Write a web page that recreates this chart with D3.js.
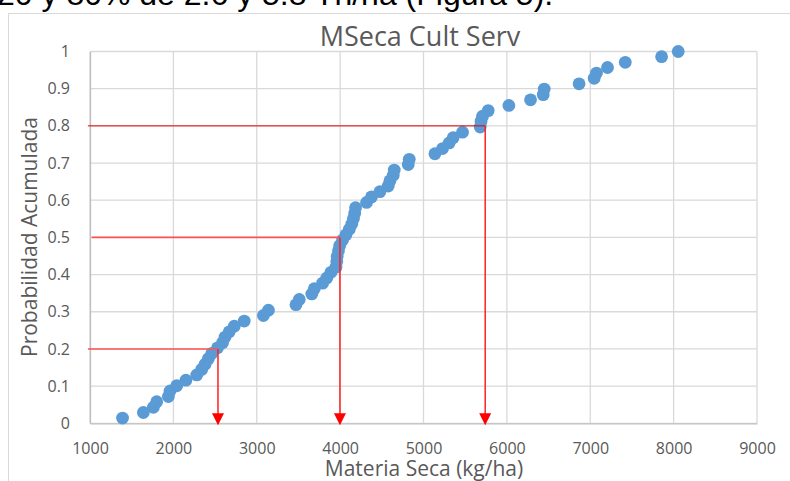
<!DOCTYPE html>
<html>
<head>
<meta charset="utf-8">
<script src="https://cdn.jsdelivr.net/npm/d3@7"></script>
<style>
  html, body { margin: 0; padding: 0; background: #ffffff; }
  svg { display: block; }
</style>
</head>
<body>
<svg id="chart" width="790" height="481"></svg>
<script>
// ---- data ----
const materiaSeca = [1390, 1640, 1760, 1800, 1940, 1960, 2040, 2150, 2280, 2340,
  2380, 2420, 2460, 2530, 2590, 2620, 2670, 2730, 2850, 3080,
  3140, 3470, 3510, 3660, 3690, 3790, 3840, 3890, 3950, 3960,
  3965, 3980, 3995, 4030, 4070, 4110, 4140, 4160, 4175, 4185,
  4317, 4377, 4477, 4577, 4597, 4637, 4649, 4817, 4829, 5137,
  5228, 5308, 5356, 5468, 5680, 5690, 5708, 5776, 6024, 6284,
  6436, 6448, 6866, 7047, 7075, 7207, 7420, 7856, 8055];
const probAcum = [0.014, 0.029, 0.043, 0.058, 0.072, 0.087, 0.101, 0.116, 0.130, 0.145,
  0.159, 0.174, 0.188, 0.203, 0.217, 0.232, 0.246, 0.261, 0.275, 0.290,
  0.304, 0.319, 0.333, 0.348, 0.362, 0.377, 0.391, 0.406, 0.420, 0.435,
  0.449, 0.464, 0.478, 0.493, 0.507, 0.522, 0.536, 0.551, 0.565, 0.580,
  0.594, 0.609, 0.623, 0.638, 0.652, 0.667, 0.681, 0.696, 0.710, 0.725,
  0.739, 0.754, 0.768, 0.783, 0.797, 0.812, 0.826, 0.841, 0.855, 0.870,
  0.884, 0.899, 0.913, 0.928, 0.942, 0.957, 0.971, 0.986, 1.000];
const xTicks = [1000, 2000, 3000, 4000, 5000, 6000, 7000, 8000, 9000];
const yTicks = [0, 0.1, 0.2, 0.3, 0.4, 0.5, 0.6, 0.7, 0.8, 0.9, 1];
const yTickLabels = ["0", "0.1", "0.2", "0.3", "0.4", "0.5", "0.6", "0.7", "0.8", "0.9", "1"];
// percentile guide lines (probability -> value)
const guideProb = [0.2, 0.5, 0.8];
const guideValue = [2535, 3998, 5740];
const guideStart = [975, 1020, 975];

const titleText = "MSeca Cult Serv";
const xTitle = "Materia Seca (kg/ha)";
const yTitle = "Probabilidad Acumulada";
const topText = "20 y 80% de 2.6 y 5.8 Tn/ha (Figura 5).";

// ---- layout ----
const svg = d3.select("#chart");
const L = 90, R = 757, T = 51.5, B = 423.3;
const x = d3.scaleLinear().domain([1000, 9000]).range([L, R]);
const y = d3.scaleLinear().domain([0, 1]).range([B, T]);
const grey = "#595959";

// clipped paragraph text at the very top
svg.append("text")
  .attr("x", -3).attr("y", 5)
  .attr("font-family", "Liberation Sans, Arial, sans-serif")
  .attr("font-size", 32)
  .attr("fill", "#000")
  .text(topText);

// chart frame
svg.append("rect")
  .attr("x", 8.5).attr("y", 13.5)
  .attr("width", 800).attr("height", 500)
  .attr("fill", "#fff")
  .attr("stroke", "#d9d9d9").attr("stroke-width", 1);

// gridlines
svg.append("g")
  .selectAll("line.vg").data(xTicks).join("line")
  .attr("x1", d => x(d)).attr("x2", d => x(d))
  .attr("y1", T).attr("y2", B)
  .attr("stroke", "#d9d9d9").attr("stroke-width", 1.3);
svg.append("g")
  .selectAll("line.hg").data(yTicks).join("line")
  .attr("x1", L).attr("x2", R)
  .attr("y1", d => y(d)).attr("y2", d => y(d))
  .attr("stroke", "#d9d9d9").attr("stroke-width", 1.3);

// axes
const xAxis = d3.axisBottom(x).tickValues(xTicks).tickSize(0).tickPadding(19)
  .tickFormat(d3.format("d"));
const gx = svg.append("g").attr("transform", `translate(0,${B})`).call(xAxis);
gx.select(".domain").attr("stroke", "#bfbfbf").attr("stroke-width", 1.3);
gx.selectAll("text").attr("font-family", "Open Sans, sans-serif")
  .attr("font-size", 16).attr("fill", grey);

const yAxis = d3.axisLeft(y).tickValues(yTicks).tickSize(0).tickPadding(20)
  .tickFormat((d, i) => yTickLabels[i]);
const gy = svg.append("g").attr("transform", `translate(${L},0)`).call(yAxis);
gy.select(".domain").attr("stroke", "#bfbfbf").attr("stroke-width", 1.3);
gy.selectAll("text").attr("font-family", "Open Sans, sans-serif")
  .attr("font-size", 16).attr("fill", grey);

// points
const pts = materiaSeca.map((v, i) => ({ v, p: probAcum[i] }));
svg.append("g").selectAll("circle").data(pts).join("circle")
  .attr("cx", d => x(d.v)).attr("cy", d => y(d.p))
  .attr("r", 6.4)
  .attr("fill", "#5b9bd5");

// guide lines
const guides = guideProb.map((p, i) => ({ p, v: guideValue[i], s: guideStart[i] }));
const gg = svg.append("g");
gg.selectAll("line.h").data(guides).join("line")
  .attr("x1", d => x(d.s)).attr("x2", d => x(d.v))
  .attr("y1", d => y(d.p)).attr("y2", d => y(d.p))
  .attr("stroke", (d, i) => i === 2 ? "#e00000" : "#ff5050")
  .attr("stroke-width", (d, i) => i === 2 ? 1 : 1.6);
gg.selectAll("line.v").data(guides).join("line")
  .attr("x1", d => x(d.v)).attr("x2", d => x(d.v))
  .attr("y1", d => y(d.p)).attr("y2", B - 8)
  .attr("stroke", "#ff2020").attr("stroke-width", 1.5);
gg.selectAll("path.arrow").data(guides).join("path")
  .attr("d", d => {
    const cx = x(d.v), tip = B + 2;
    return `M${cx - 6},${tip - 12} L${cx + 6},${tip - 12} L${cx},${tip} Z`;
  })
  .attr("fill", "#ff0000");

// titles
svg.append("text")
  .attr("x", 420).attr("y", 46)
  .attr("text-anchor", "middle")
  .attr("font-family", "Open Sans, sans-serif")
  .attr("font-size", 27)
  .attr("fill", grey)
  .text(titleText);
svg.append("text")
  .attr("x", 424).attr("y", 476)
  .attr("text-anchor", "middle")
  .attr("font-family", "Open Sans, sans-serif")
  .attr("font-size", 21)
  .attr("fill", grey)
  .text(xTitle);
svg.append("text")
  .attr("transform", "translate(37,237) rotate(-90)")
  .attr("text-anchor", "middle")
  .attr("font-family", "Open Sans, sans-serif")
  .attr("font-size", 21)
  .attr("fill", grey)
  .text(yTitle);
</script>
</body>
</html>
